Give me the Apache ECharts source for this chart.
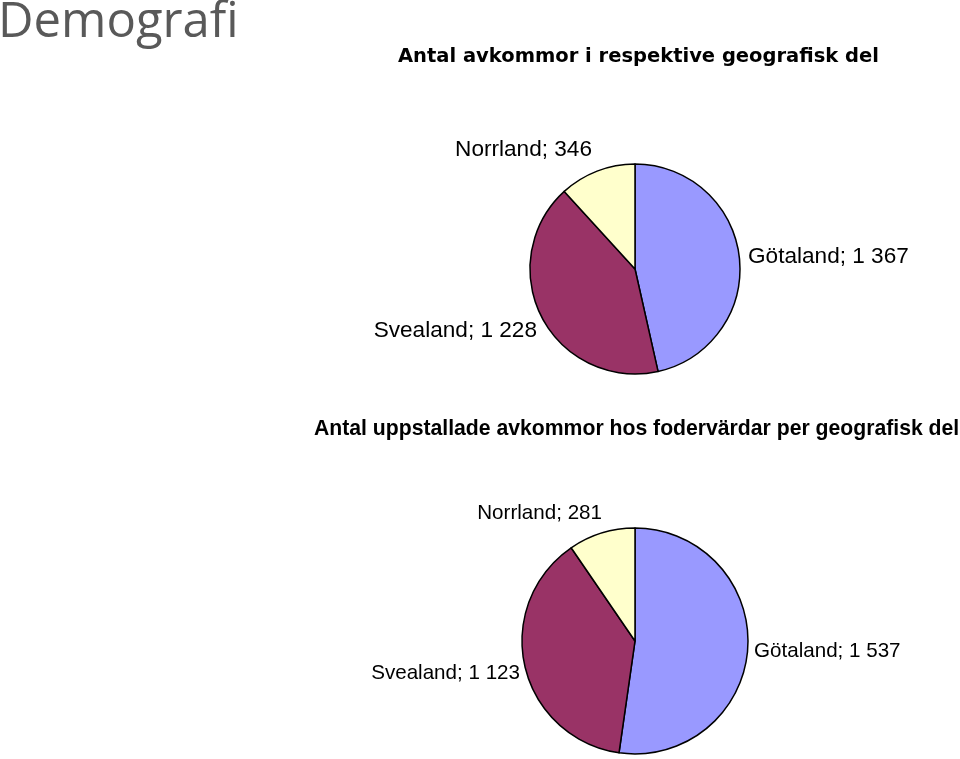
<!DOCTYPE html>
<html><head><meta charset="utf-8">
<script src="https://cdn.jsdelivr.net/npm/echarts@6/dist/echarts.min.js"></script>
<style>html,body{margin:0;padding:0;background:#fff}#c{width:960px;height:759px}</style>
</head><body><div id="c"></div>
<script>
const regions = ['Götaland', 'Svealand', 'Norrland'];
const offspringTotal = [1367, 1228, 346];
const offspringHosted = [1537, 1123, 281];
const pageTitle = 'Demografi';
const title1 = 'Antal avkommor i respektive geografisk del';
const title2 = 'Antal uppstallade avkommor hos fodervärdar per geografisk del';

const colors = ['#9999FF', '#993366', '#FFFFCC'];
const fmt = v => String(v).replace(/\B(?=(\d{3})+(?!\d))/g, ' ');

// label anchor positions (layout only)
const labelPos = [
  [{x: 748, y: 257, align: 'left'}, {x: 537, y: 331, align: 'right'}, {x: 592, y: 150, align: 'right'}],
  [{x: 754, y: 651, align: 'left'}, {x: 520, y: 673, align: 'right'}, {x: 602, y: 513, align: 'right'}]
];

function mk(values, center, radius, si, fs) {
  return {
    type: 'pie', center: center, radius: radius, startAngle: 90, clockwise: true,
    silent: true, animation: false,
    data: regions.map((r, i) => ({name: r, value: values[i], itemStyle: {color: colors[i]}})),
    itemStyle: {borderColor: '#000', borderWidth: 1.5},
    label: {show: true, position: 'outside', formatter: p => p.name + '; ' + fmt(p.value),
      fontFamily: 'Liberation Sans, Arial', fontSize: fs, color: '#000',
      overflow: 'none', edgeDistance: 0, width: 300},
    labelLine: {show: false},
    labelLayout: p => { const q = labelPos[si][p.dataIndex]; return {x: q.x, y: q.y, align: q.align, verticalAlign: 'middle', moveOverlap: false}; }
  };
}

const chart = echarts.init(document.getElementById('c'), null, {renderer: 'canvas'});
chart.setOption({
  backgroundColor: '#fff',
  title: [
    {text: pageTitle, left: -7, top: -6, textStyle: {fontFamily: 'Open Sans', fontWeight: 'normal', fontSize: 49, color: '#595959'}},
    {text: title1, left: 393, top: 42, textStyle: {fontFamily: 'DejaVu Sans', fontWeight: 'bold', fontSize: 19.5, color: '#000'}},
    {text: title2, left: 309, top: 414, textStyle: {fontFamily: 'Liberation Sans, Arial', fontWeight: 'bold', fontSize: 21.2, color: '#000'}}
  ],
  series: [
    mk(offspringTotal, [635, 269], 105, 0, 22.6),
    mk(offspringHosted, [635, 641], 113, 1, 20.6)
  ]
});
</script></body></html>
